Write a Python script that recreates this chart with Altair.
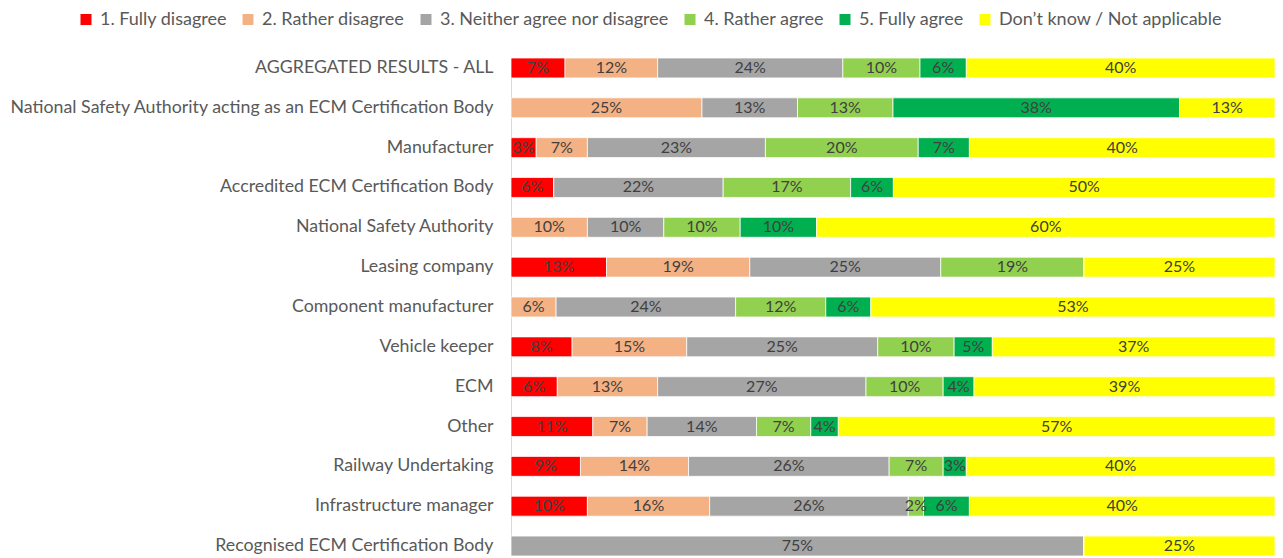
import altair as alt
import pandas as pd

categories = [
    "AGGREGATED RESULTS - ALL",
    "National Safety Authority acting as an ECM Certification Body",
    "Manufacturer",
    "Accredited ECM Certification Body",
    "National Safety Authority",
    "Leasing company",
    "Component manufacturer",
    "Vehicle keeper",
    "ECM",
    "Other",
    "Railway Undertaking",
    "Infrastructure manager",
    "Recognised ECM Certification Body",
]

responses = [
    "1. Fully disagree",
    "2. Rather disagree",
    "3. Neither agree nor disagree",
    "4. Rather agree",
    "5. Fully agree",
    "Don\u2019t know / Not applicable",
]
colors = ["#FF0000", "#F4B183", "#A5A5A5", "#92D050", "#00B050", "#FFFF00"]

# percentages per response, in category order
fully_disagree = [7, 0, 3.3, 5.6, 0, 12.5, 0, 8, 6, 10.7, 9, 10, 0]
rather_disagree = [12, 25, 6.7, 0, 10, 18.75, 5.9, 15, 13, 7.1, 14, 16, 0]
neither = [24, 12.5, 23.3, 22.2, 10, 25, 23.5, 25, 27, 14.3, 26, 26, 75]
rather_agree = [10, 12.5, 20, 16.7, 10, 18.75, 11.8, 10, 10, 7.1, 7, 2, 0]
fully_agree = [6, 37.5, 6.7, 5.6, 10, 0, 5.9, 5, 4, 3.6, 3, 6, 0]
dont_know = [40, 12.5, 40, 50, 60, 25, 52.9, 37, 39, 57.1, 40, 40, 25]

series = [fully_disagree, rather_disagree, neither, rather_agree, fully_agree, dont_know]

rows = []
for ri, (resp, vals) in enumerate(zip(responses, series)):
    for cat, v in zip(categories, vals):
        rows.append({
            "category": cat,
            "response": resp,
            "idx": ri,
            "value": v,
            "label": f"{int(v + 0.5)}%",
        })
df = pd.DataFrame(rows)

FONT = "Lato"
PLOT_LEFT_PAD = 503

y_enc = alt.Y(
    "category:N",
    sort=categories,
    title=None,
    scale=alt.Scale(paddingInner=0.5, paddingOuter=0),
    axis=alt.Axis(
        ticks=False,
        labelFont=FONT,
        labelFontSize=17.8,
        labelColor="#595959",
        labelPadding=18,
        labelLimit=600,
        domainColor="#D9D9D9",
        domainWidth=1,
        grid=False,
    ),
)

base = alt.Chart(df).transform_stack(
    stack="value",
    as_=["v0", "v1"],
    groupby=["category"],
    sort=[alt.SortField("idx")],
    offset="normalize",
).transform_calculate(mid="(datum.v0 + datum.v1) / 2")

x_scale = alt.Scale(domain=[0, 1], nice=False, zero=False)

bars = base.mark_bar(stroke="#FFFFFF", strokeWidth=0.75).encode(
    x=alt.X("v0:Q", axis=None, scale=x_scale),
    x2="v1:Q",
    y=y_enc,
    color=alt.Color(
        "response:N",
        scale=alt.Scale(domain=responses, range=colors),
        sort=responses,
        legend=alt.Legend(
            title=None,
            orient="none",
            direction="horizontal",
            legendX=-434,
            legendY=-47.5,
            symbolType="square",
            symbolSize=121,
            symbolStrokeWidth=0,
            labelFont=FONT,
            labelFontSize=18,
            labelColor="#595959",
            labelOffset=5,
            columnPadding=12,
            labelLimit=400,
        ),
    ),
)

texts = base.transform_filter("datum.value > 0").mark_text(
    font=FONT, fontSize=16, color="#404040", align="center", baseline="middle"
).encode(
    x=alt.X("mid:Q", scale=x_scale, axis=None),
    y=alt.Y("category:N", sort=categories),
    text="label:N",
)

chart = alt.layer(bars, texts).properties(
    width=764,
    height=498,
    autosize=alt.AutoSizeParams(type="none"),
    padding={"left": PLOT_LEFT_PAD, "top": 50, "right": 0, "bottom": 0},
).configure_view(stroke=None)

chart.save("out.html", embed_options={"renderer": "svg", "actions": False})
